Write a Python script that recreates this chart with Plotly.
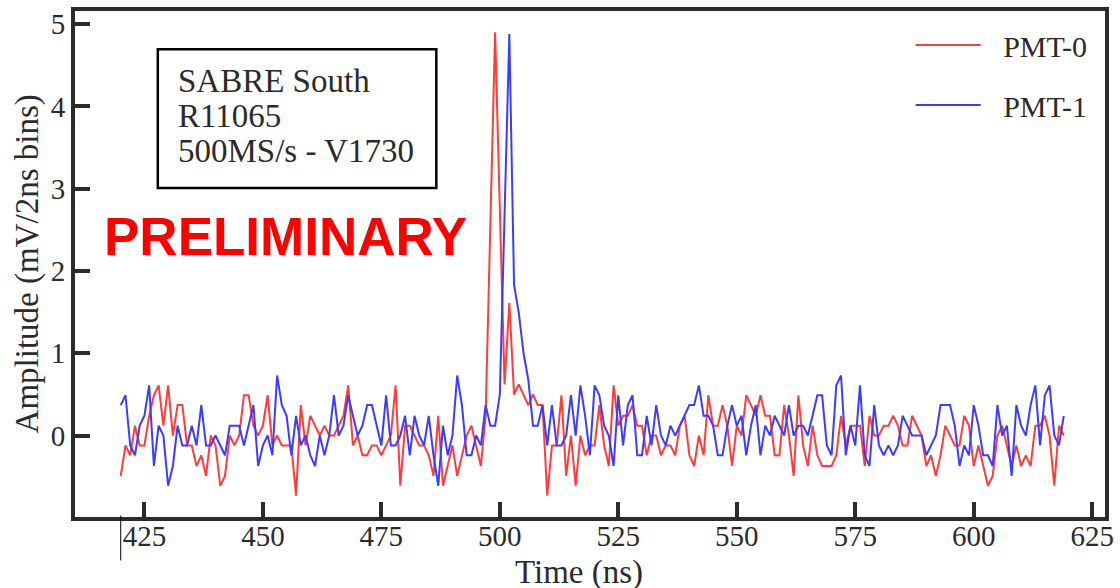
import plotly.graph_objects as go

# sample times (ns), 1 ns steps
time_ns = list(range(420, 620))

pmt0_mv = [
    -0.49, -0.12, -0.24, 0.12, -0.12, -0.12, 0.24, 0.49, 0.61, 0.12,
    0.61, 0.0, 0.37, 0.37, -0.12, -0.12, -0.37, -0.24, -0.49, 0.0,
    -0.12, -0.61, -0.49, 0.0, -0.12, 0.0, 0.49, 0.49, 0.12, 0.0,
    0.12, 0.49, -0.12, 0.0, -0.12, -0.12, -0.12, -0.73, 0.37, -0.12,
    0.24, 0.12, 0.0, 0.12, 0.0, 0.0, 0.12, 0.24, 0.61, -0.12,
    0.0, -0.24, -0.24, -0.12, -0.12, -0.24, -0.12, 0.0, 0.61, -0.61,
    0.12, 0.12, 0.0, -0.12, -0.12, -0.24, -0.49, 0.24, -0.61, -0.37,
    -0.12, -0.49, -0.24, 0.0, 0.12, -0.12, -0.37, 0.24, 2.55, 4.90,
    2.75, 0.62, 1.61, 0.50, 0.62, 0.50, 0.37, 0.50, 0.37, 0.37,
    -0.73, -0.12, -0.12, 0.49, -0.49, 0.0, -0.61, 0.0, -0.24, -0.12,
    -0.12, 0.37, -0.12, -0.37, 0.61, 0.12, 0.24, 0.24, 0.37, 0.12,
    0.12, -0.24, 0.0, 0.0, -0.24, -0.12, -0.12, -0.24, 0.12, 0.24,
    -0.24, -0.37, 0.0, -0.24, 0.49, 0.12, 0.12, 0.37, 0.12, -0.37,
    0.12, 0.0, 0.49, 0.37, 0.24, 0.49, 0.24, 0.24, -0.24, -0.24,
    0.37, 0.0, -0.49, 0.49, -0.12, -0.37, 0.12, -0.24, -0.37, -0.37,
    -0.37, -0.24, 0.24, -0.12, 0.12, 0.12, 0.12, -0.37, 0.24, 0.0,
    0.0, 0.12, 0.12, 0.24, 0.12, -0.12, -0.12, 0.24, 0.12, 0.0,
    -0.37, -0.24, -0.49, -0.24, 0.12, 0.0, -0.12, -0.12, 0.24, 0.12,
    -0.37, -0.12, -0.37, -0.61, -0.49, 0.0, 0.12, -0.12, -0.37, -0.12,
    -0.37, -0.24, -0.37, 0.12, 0.12, 0.24, 0.0, -0.61, 0.12, 0.0,
]

pmt1_mv = [
    0.37, 0.49, -0.12, -0.24, 0.12, 0.24, 0.61, -0.37, 0.12, 0.0,
    -0.61, -0.37, 0.12, -0.12, -0.12, 0.12, -0.12, 0.37, -0.12, -0.12,
    0.0, -0.12, -0.24, 0.12, 0.12, 0.12, -0.12, 0.12, 0.37, -0.37,
    -0.12, 0.0, -0.24, 0.73, 0.37, 0.24, -0.24, 0.24, -0.12, 0.0,
    -0.24, -0.37, 0.0, -0.24, 0.0, 0.49, 0.0, 0.12, 0.49, 0.24,
    0.0, 0.12, 0.37, 0.37, 0.12, -0.12, 0.49, -0.12, -0.12, 0.0,
    0.24, -0.24, 0.24, 0.0, -0.12, 0.24, -0.24, -0.61, 0.12, -0.24,
    0.0, 0.73, 0.37, -0.24, -0.24, 0.0, -0.12, 0.37, 0.12, 0.12,
    0.50, 2.60, 4.88, 1.83, 1.49, 1.00, 0.68, 0.12, 0.12, 0.37,
    -0.12, 0.37, -0.12, -0.12, 0.0, 0.49, 0.0, 0.61, 0.24, -0.24,
    0.61, 0.49, 0.12, 0.0, -0.37, 0.49, -0.12, 0.37, 0.49, -0.24,
    -0.24, 0.24, -0.12, 0.37, 0.0, -0.12, 0.12, 0.0, 0.12, 0.24,
    0.37, 0.37, 0.61, 0.24, 0.24, 0.12, -0.24, -0.24, 0.12, 0.37,
    0.12, 0.24, -0.24, 0.12, 0.37, -0.24, 0.12, 0.0, 0.24, 0.12,
    0.0, 0.37, 0.0, 0.12, 0.12, 0.0, 0.24, 0.49, 0.49, -0.12,
    -0.24, 0.61, 0.73, -0.24, 0.12, -0.12, 0.61, -0.24, -0.37, 0.37,
    -0.12, -0.24, -0.12, -0.24, -0.12, 0.24, 0.12, 0.0, 0.0, 0.0,
    -0.24, -0.12, 0.0, 0.37, 0.37, 0.37, 0.12, -0.37, -0.12, -0.24,
    0.37, 0.12, -0.24, -0.24, -0.37, 0.37, 0.0, 0.12, -0.49, 0.37,
    0.12, 0.0, 0.37, 0.61, -0.12, 0.49, 0.61, 0.0, -0.12, 0.24,
]

series_names = ["PMT-0", "PMT-1"]
series_colors = ["rgb(255,60,60)", "rgb(60,60,255)"]
x_ticks = [425, 450, 475, 500, 525, 550, 575, 600, 625]
y_ticks = [0, 1, 2, 3, 4, 5]
info_lines = ["SABRE South", "R11065", "500MS/s - V1730"]

SERIF = "Liberation Serif, Times New Roman, serif"
INK = "#2b2b2b"
PAD = "\u00a0\u00a0\u200a"  # gap between legend line and label

fig = go.Figure()
for name, ys, col in zip(series_names, [pmt0_mv, pmt1_mv], series_colors):
    fig.add_trace(go.Scatter(
        x=time_ns, y=ys, mode="lines", name=PAD + name, legendgroup=name,
        line=dict(color=col, width=2),
    ))

axis_common = dict(
    showline=True, linecolor=INK, linewidth=4, mirror=True,
    ticks="inside", ticklen=15, tickwidth=4, tickcolor=INK,
    showgrid=False, zeroline=False,
    tickfont=dict(family=SERIF, size=29, color=INK),
)

fig.update_layout(
    width=1120, height=588,
    margin=dict(l=75, r=6, t=11, b=70.5),
    paper_bgcolor="white", plot_bgcolor="white",
    xaxis=dict(range=[410.35, 627.7], tickvals=x_ticks, ticklabelstandoff=-10, **axis_common),
    yaxis=dict(range=[-0.99, 5.16], tickvals=y_ticks, **axis_common),
    showlegend=True,
    legend=dict(
        x=0.8113, y=0.984, xanchor="left", yanchor="top",
        font=dict(family=SERIF, size=30, color=INK),
        bgcolor="rgba(0,0,0,0)", tracegroupgap=18, itemwidth=65,
    ),
)

# axis titles
fig.add_annotation(text="Time (ns)", xref="paper", yref="paper", x=0.489, y=-0.109,
                   xanchor="center", yanchor="middle", showarrow=False,
                   font=dict(family=SERIF, size=33, color=INK))
fig.add_annotation(text="Amplitude (mV/2ns bins)", xref="paper", yref="paper",
                   x=-0.0462, y=0.5, xanchor="center", yanchor="middle", textangle=-90,
                   showarrow=False, font=dict(family=SERIF, size=33, color=INK))

# info box
fig.add_shape(type="rect", xref="paper", yref="paper", x0=0.0804, x1=0.3508,
              y0=0.6502, y1=0.9244, line=dict(color="black", width=2.5))
for txt, yy in zip(info_lines, [0.8623, 0.7932, 0.7241]):
    fig.add_annotation(text=txt, xref="paper", yref="paper", x=0.0985, y=yy,
                       xanchor="left", yanchor="middle", showarrow=False,
                       font=dict(family=SERIF, size=33, color=INK))

fig.add_annotation(text="<b>PRELIMINARY</b>", xref="paper", yref="paper", x=0.204, y=0.5535,
                   xanchor="center", yanchor="middle", showarrow=False,
                   font=dict(family="Liberation Sans, Arial, sans-serif", size=53, color="#ff0000"))

# thin marker line below the axis at the first sample
fig.add_shape(type="line", xref="x", yref="paper", x0=time_ns[0], x1=time_ns[0],
              y0=0.003, y1=-0.0858, line=dict(color="black", width=1))

fig.write_html("out.html", config={"displayModeBar": False},
               post_script="document.body.style.margin='0px';")
